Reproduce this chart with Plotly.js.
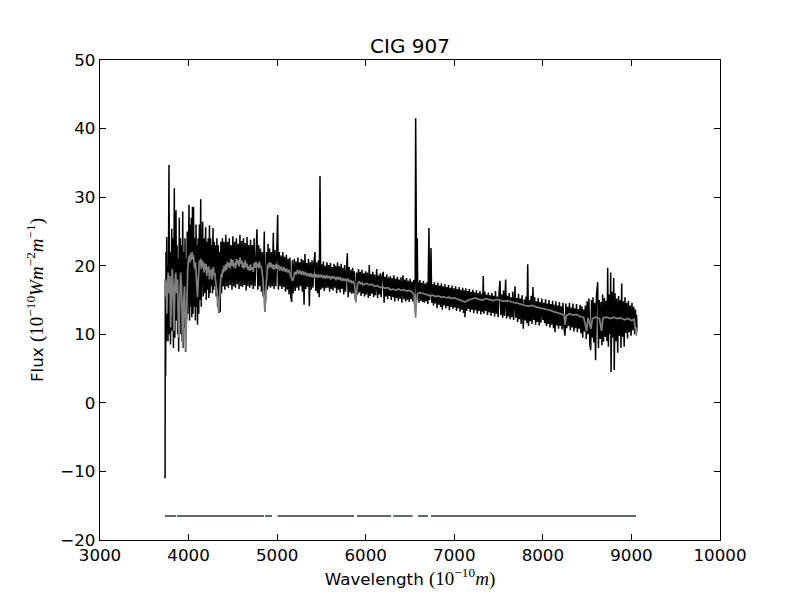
<!DOCTYPE html>
<html>
<head>
<meta charset="utf-8">
<script src="https://cdn.plot.ly/plotly-3.0.1.min.js"></script>
<style>html,body{margin:0;padding:0;background:#fff;}</style>
</head>
<body>
<div id="chart" style="width:800px;height:600px;"></div>
<script>
// Observed spectrum (black), wavelength in Angstrom
const waveObs = [
3734,3735,3737,3741,3745,3749,3753,3758,3763,3768,
3774,3779,3784,3790,3796,3803,3810,3816,3822,3829,
3834,3839,3845,3852,3858,3864,3870,3876,3882,3888,
3895,3901,3908,3914,3921,3927,3934,3940,3947,3953,
3960,3966,3972,3978,3985,3991,3998,4005,4011,4018,
4024,4031,4037,4044,4050,4056,4063,4070,4077,4084,
4090,4096,4101,4108,4115,4122,4129,4137,4143,4150,
4159,4166,4174,4181,4188,4193,4200,4207,4214,4222,
4229,4236,4243,4250,4257,4264,4270,4276,4283,4290,
4297,4305,4312,4320,4328,4336,4343,4350,4357,4365,
4373,4382,4391,4400,4410,4420,4430,4440,4450,4460,
4470,4480,4490,4500,4510,4520,4530,4540,4550,4560,
4570,4580,4590,4600,4610,4620,4630,4640,4650,4660,
4670,4680,4690,4700,4710,4720,4730,4740,4750,4760,
4772,4782,4792,4802,4812,4822,4832,4842,4855,4862,
4870,4880,4890,4897,4905,4915,4925,4935,4945,4957,
4965,4975,4985,4995,5006,5014,5024,5034,5044,5054,
5064,5074,5084,5094,5104,5114,5124,5134,5144,5154,
5164,5172,5182,5194,5204,5214,5224,5234,5244,5254,
5264,5274,5284,5294,5304,5314,5324,5334,5344,5354,
5364,5374,5384,5394,5404,5414,5427,5436,5446,5456,
5466,5475,5484,5492,5502,5512,5522,5532,5542,5552,
5562,5572,5582,5592,5602,5612,5622,5632,5642,5652,
5662,5672,5682,5692,5702,5712,5722,5732,5742,5752,
5762,5772,5782,5792,5802,5812,5822,5832,5842,5852,
5862,5872,5882,5890,5898,5908,5918,5928,5938,5948,
5958,5968,5978,5988,5998,6008,6018,6030,6040,6050,
6060,6070,6080,6090,6100,6110,6124,6134,6144,6154,
6164,6174,6184,6198,6208,6218,6228,6238,6248,6258,
6268,6278,6288,6298,6308,6318,6328,6338,6348,6358,
6368,6378,6388,6398,6408,6421,6431,6441,6451,6461,
6471,6481,6491,6501,6511,6521,6531,6541,6551,6558,
6564,6570,6576,6582,6588,6594,6602,6612,6622,6632,
6642,6652,6662,6672,6682,6692,6702,6714,6720,6729,
6737,6745,6755,6765,6775,6785,6795,6805,6815,6825,
6835,6845,6855,6865,6875,6885,6895,6905,6915,6925,
6935,6945,6955,6965,6975,6985,6995,7005,7015,7025,
7035,7045,7055,7065,7075,7085,7095,7105,7115,7121,
7130,7140,7150,7160,7170,7180,7190,7200,7210,7220,
7230,7240,7250,7260,7270,7280,7290,7300,7310,7320,
7327,7335,7345,7355,7365,7375,7385,7395,7405,7415,
7425,7435,7445,7455,7465,7475,7485,7495,7505,7516,
7526,7536,7546,7556,7566,7580,7590,7600,7610,7620,
7630,7640,7650,7660,7670,7685,7695,7705,7715,7725,
7735,7745,7755,7765,7779,7790,7800,7810,7820,7829,
7838,7848,7858,7868,7878,7888,7898,7908,7918,7928,
7938,7948,7958,7968,7978,7988,8001,8010,8020,8030,
8040,8050,8060,8070,8080,8090,8100,8110,8120,8130,
8137,8147,8157,8167,8177,8187,8197,8207,8217,8227,
8237,8250,8260,8270,8280,8290,8300,8310,8320,8330,
8340,8350,8360,8370,8380,8390,8400,8410,8420,8430,
8440,8450,8460,8470,8480,8490,8500,8510,8520,8530,
8540,8550,8560,8566,8575,8585,8595,8605,8619,8628,
8638,8648,8658,8668,8675,8685,8695,8705,8715,8724,
8732,8740,8750,8758,8766,8770,8780,8790,8800,8806,
8815,8825,8835,8845,8855,8865,8875,8882,8890,8898,
8908,8918,8927,8936,8946,8956,8966,8976,8986,8996,
9006,9016,9026,9036,9046,9052,9058,9063
];
const fluxObs = [
-10.5,-11,18,4,22,9,24.2,11,20,9,
23,34.7,10,22,8.5,21,25.4,10.5,24,8,
21,31.3,9.5,22,28.1,12,23,10,21,7.5,
27,12,24,10,23,9,27.9,8,22,11,
24,7.4,21,12,25,13,24,28.9,12,26,
14,27,12.5,28.6,13,28.6,14,24,12,26,
14,23,11.4,24,13,26,15,29.7,14,24,
26.4,15.5,24,16,23,25.6,15,23.5,16.5,24,
15.3,25.9,16,24,17,23,16,25.5,16.5,23.5,
17,23,15.5,24,14,23,13.1,22,13.3,23.5,
16,24,17,23.5,16.5,24.5,17,23.5,16.8,24,
17.2,23,16.5,24.3,17,23.5,16.8,24,17.3,23.2,
16.6,24.5,17,23.6,16.9,24,17.2,23.3,16.4,24.2,
17,23,16.8,23.8,17.1,23,16.6,24,17,22.8,
25.3,16.5,23,17,22.5,16.2,22,15.5,25,13.3,
15,22,16.5,23.2,17,22.5,16.8,22,17,24.8,
16.6,22.3,17,21.8,27.4,16.5,22,17,21.5,16.6,
22,16.9,21.3,16.2,21.6,16.5,21,15.8,21.2,15.5,
14.7,20.8,16,21,16.3,20.6,16.8,21.2,16.4,20.5,
17,21,16.2,20.8,14.3,21.7,16.6,20.4,16.9,21,
14.1,20.5,16.5,20.8,16.8,20.2,22,16.3,20.5,16,
20.8,15.4,33.1,16.5,20.2,16.7,20.6,16.3,20,16.7,
20.5,16.8,20.1,16.2,20.4,16.6,19.8,16.4,20.3,16.8,
20,16,20.5,16.5,19.9,16.1,20.3,16.6,19.7,15.8,
20.1,16.2,19.6,21.8,15.4,19.8,16.1,19.4,15.9,19.7,
16,19.2,15.2,14.7,19,15.8,19.5,16.1,19.1,15.6,
19.4,15.9,18.9,15.5,19.2,15.8,19,15.3,20.1,15.6,
18.8,15.9,19.1,15.4,18.7,15.7,19.5,15.3,18.6,15.8,
18.9,15.4,18.5,19.1,14.6,18.4,15.5,18.7,15.1,18.3,
15.6,18.5,15,18.2,15.4,18.6,14.8,18.1,15.3,18.4,
14.9,18,15.2,18.3,14.6,18.6,15.1,18,14.8,18.2,
15,17.8,14.7,18.1,15.1,17.7,14.8,17.9,14.5,17.5,
41.5,17,15,24,15.5,17.6,14.6,17.9,14.9,17.5,
14.7,17.8,14.6,17.4,14.8,17.6,14.4,25.5,15,17,
22.6,14.6,17.3,14.2,17.6,14.5,17.2,13.8,17.5,14.3,
17.1,14,17.4,13.6,17,14.2,17.3,13.8,16.9,14.1,
17.2,13.5,16.8,14,17.1,13.7,16.7,13.9,17,13.4,
16.6,13.8,16.9,13.3,16.5,13.6,16.8,13.1,16.4,12.5,
16.7,13.4,16.3,13.7,16.6,13.2,16.2,13.6,16.5,13.1,
16.1,13.5,16.4,13,16,13.4,16.3,12.9,15.9,13.3,
18.5,13,16.2,13.4,15.8,12.8,16.1,13.2,15.7,12.7,
16,13.1,15.6,12.6,16.3,13,15.5,12.5,16,17.8,
12.8,15.8,12.4,16.4,12.7,18,12.3,15.6,12.6,16,
12.2,15.4,12.5,16.2,12.1,17,12.4,15.3,11.8,15.9,
12.2,15.2,11.5,15.7,10.8,15.1,12,15.5,11.6,20.2,
11.2,15,11.9,15.6,11.5,16.9,12.1,15.4,11.4,14.8,
11.8,15.3,11.3,14.7,11.7,15.2,12.1,14.6,11.6,15.1,
11.2,14.5,11.5,15,11,14.4,11.4,14.9,10.9,14.3,
10.3,14.8,11.3,14.2,10.8,14.7,11.2,14.1,10.7,14.6,
11.1,9.8,14.5,10.9,14,11.2,14.6,10.6,13.9,11,
14.5,10.4,13.8,10.9,14.4,10.3,13.7,10.8,14.3,10.1,
14.1,9.5,13.6,10.4,14.2,9.3,14.8,10,15.2,8.6,
7.7,15,9.5,15.4,8.8,14.6,6.2,15.6,17.6,8,
15,9.3,14.7,8.4,15.8,8.9,15.3,9.6,14.9,9,
19.7,8.2,15.8,10,19,4.5,16.2,9.5,18.2,4.8,
16,9,15.2,7.3,15.6,9.8,15,8,17.4,9.6,
14.8,8.2,15.4,10.2,14.6,9.4,14.9,10.3,14.2,9.8,
14.6,10.6,14,10,13.6,10.2,12.8,10.5
];

// Model spectrum (grey)
const waveModel = [
3734,3740,3748,3755,3762,3770,3780,3790,3798,3806,
3815,3825,3835,3845,3855,3865,3875,3889,3900,3910,
3920,3934,3945,3955,3968,3980,3990,4000,4010,4018,
4025,4032,4040,4048,4055,4063,4070,4078,4085,4093,
4101,4108,4115,4123,4130,4138,4145,4153,4160,4168,
4175,4183,4190,4198,4205,4213,4220,4228,4235,4243,
4250,4258,4265,4273,4280,4288,4295,4303,4310,4318,
4325,4333,4340,4348,4355,4363,4370,4378,4385,4393,
4400,4410,4420,4430,4440,4450,4460,4470,4480,4490,
4500,4510,4520,4530,4540,4550,4560,4570,4580,4590,
4600,4610,4620,4630,4640,4650,4660,4670,4680,4690,
4700,4710,4720,4730,4740,4750,4760,4770,4780,4790,
4800,4810,4820,4830,4840,4848,4855,4862,4870,4878,
4885,4893,4900,4910,4920,4930,4940,4950,4960,4970,
4980,4990,5000,5015,5030,5045,5060,5075,5090,5105,
5120,5135,5150,5163,5175,5188,5200,5215,5230,5245,
5260,5275,5290,5305,5320,5335,5350,5365,5380,5395,
5410,5425,5440,5455,5470,5485,5500,5515,5530,5545,
5560,5575,5590,5605,5620,5635,5650,5665,5680,5695,
5710,5725,5740,5755,5770,5785,5800,5815,5830,5845,
5860,5875,5882,5890,5898,5910,5925,5940,5955,5970,
5985,6010,6040,6070,6100,6130,6160,6190,6220,6250,
6280,6310,6340,6370,6400,6430,6460,6490,6520,6545,
6556,6564,6572,6585,6610,6640,6670,6700,6730,6760,
6790,6820,6850,6880,6910,6940,6970,7000,7040,7080,
7121,7160,7200,7240,7280,7320,7360,7400,7440,7480,
7520,7560,7600,7640,7680,7720,7760,7800,7840,7880,
7920,7960,8000,8040,8080,8120,8160,8200,8240,8250,
8265,8300,8340,8380,8420,8460,8495,8510,8542,8560,
8600,8640,8662,8680,8720,8760,8800,8840,8880,8920,
8960,9000,9030,9045,9055,9063
];
const fluxModel = [
15.5,18,17,13,17,19,16,18.5,11,17,
19.5,17,10.5,17,19,16,18,9.5,16,19,
17,8,15,17,7.5,17,19.5,21,21.5,20.5,
21.8,20.8,22,21,21.5,20,19.5,20.5,18.5,17.5,
15.4,17.5,19.5,20.8,20,21,19.5,20.8,19.8,20.5,
19,20.3,19.4,20.2,18.5,19.8,19,19.9,18,19.3,
18.6,19.5,18,19.2,19.8,18.6,19,18,17.5,16.5,
15.5,14,13.3,15,17,18,18.8,18.3,19.5,19,
20,19.2,20.2,19.4,20.6,19.8,20.4,19.6,21,20,
20.8,19.8,20.4,19.6,21,20.2,20.8,19.9,21.2,20.3,
20.8,19.7,20.4,19.6,20.8,19.8,20.3,19.4,19.9,19.2,
20.2,19.4,19.8,19.1,20.4,19.7,20.6,19.8,20.3,19.6,
20.6,19.8,20,19,18,16,14,13.3,16,18.3,
19.5,20.2,19.6,20.5,19.8,20.4,19.7,20.2,19.4,20.1,
19.6,20.3,19.5,20.1,19.3,19.9,19.2,19.8,19.1,19.6,
19,19.4,18.6,18.2,17.8,18.4,19.1,18.7,19.4,18.8,
19.3,18.7,19.2,18.6,19.1,18.5,18.9,18.4,18.9,18.3,
18.8,18.3,18.8,18.2,18.7,18.3,18.7,18.2,18.6,18.1,
18.6,18.2,18.5,18,18.5,18.1,18.4,17.9,18.4,18,
18.3,17.8,18.2,17.8,18.1,17.7,18.1,17.6,17.9,17.5,
17.7,17.2,16.2,14.7,16.3,17.4,17.7,17.3,17.6,17.2,
17.3,17.4,17.2,17.3,17,17.1,16.8,16.9,16.7,16.8,
16.5,16.6,16.4,16.6,16.4,16.5,16.3,16.4,16.2,15.8,
13.5,12.4,14.5,15.9,16.1,16,15.8,15.7,15.6,15.7,
15.5,15.6,15.4,15.5,15.3,15.4,15.2,15.3,15.1,14.8,
14.7,15,15.2,15.3,15.1,15,15.2,15,14.9,15.1,
15,14.8,14.9,14.7,14.6,14.5,14.3,14.2,14.1,14.2,
14,13.9,13.7,13.6,13.5,13.3,13.2,13,12.8,11.4,
12.7,13,12.8,12.9,12.6,12.5,10.5,12.4,10.8,12.3,
12.5,12.3,10.5,12.4,12.5,12.3,12.5,12.3,12.4,12.1,
12.3,12,12.2,11,9.8,11
];

// Good-pixel mask line (gaps = masked regions)
const waveMask = [3734,3858,null,3869,4852,null,4863,4942,null,5006,5868,null,5902,6286,null,6311,6530,null,6590,6703,null,6737,9052];
const fluxMask = [-16.5,-16.5,null,-16.5,-16.5,null,-16.5,-16.5,null,-16.5,-16.5,null,-16.5,-16.5,null,-16.5,-16.5,null,-16.5,-16.5,null,-16.5,-16.5];

// Axis ticks
const xTicks = [3000,4000,5000,6000,7000,8000,9000,10000];
const xTickLabels = ['3000','4000','5000','6000','7000','8000','9000','10000'];
const yTicks = [-20,-10,0,10,20,30,40,50];
const yTickLabels = ['\u221220','\u221210','0','10','20','30','40','50'];

const traces = [
  {x: waveObs, y: fluxObs, type:'scatter', mode:'lines', line:{color:'#000000', width:1.5}, hoverinfo:'skip'},
  {x: waveModel, y: fluxModel, type:'scatter', mode:'lines', line:{color:'#808080', width:1.7}, hoverinfo:'skip'},
  {x: waveMask, y: fluxMask, type:'scatter', mode:'lines', line:{color:'#5e6a72', width:2}, connectgaps:false, hoverinfo:'skip'}
];

const mathStyle = 'font-family:Liberation Serif;font-size:19px';
const axisCommon = {
  showgrid:false, zeroline:false, showline:true, mirror:'ticks',
  linecolor:'#000', linewidth:1.2, ticks:'inside', ticklen:6, tickwidth:1, tickcolor:'#000',
  tickfont:{family:'DejaVu Sans', size:16.7, color:'#000'}
};

const layout = {
  width:800, height:600,
  margin:{l:100, r:80, t:60, b:60},
  paper_bgcolor:'#ffffff', plot_bgcolor:'#ffffff',
  font:{family:'DejaVu Sans', size:16.7, color:'#000'},
  showlegend:false,
  title:{text:'CIG 907', font:{family:'DejaVu Sans', size:20, color:'#000'}, xref:'paper', x:0.5, xanchor:'center', yref:'container', y:0.923, yanchor:'middle'},
  xaxis: Object.assign({}, axisCommon, {
    range:[3000,10000], tickmode:'array', tickvals:xTicks, ticktext:xTickLabels,
    title:{text:'Wavelength <span style="' + mathStyle + '">(10<sup>\u221210</sup><i>m</i>)</span>', font:{family:'DejaVu Sans', size:16.7, color:'#000'}, standoff:6}
  }),
  yaxis: Object.assign({}, axisCommon, {
    range:[-20,50], tickmode:'array', tickvals:yTicks, ticktext:yTickLabels,
    title:{text:'Flux <span style="' + mathStyle + '">(10<sup>\u221210</sup><i>Wm</i><sup>\u22122</sup><i>m</i><sup>\u22121</sup>)</span>', font:{family:'DejaVu Sans', size:16.7, color:'#000'}, standoff:12}
  })
};

Plotly.newPlot('chart', traces, layout, {staticPlot:true, displayModeBar:false});
</script>
</body>
</html>
